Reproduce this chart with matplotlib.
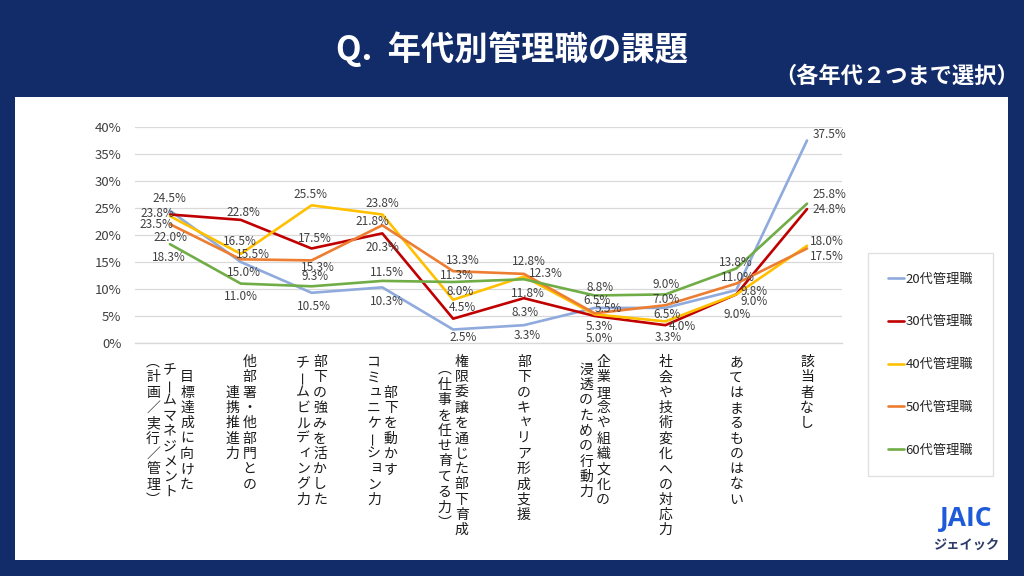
import numpy as np
import matplotlib
matplotlib.use("Agg")
import matplotlib.pyplot as plt
from matplotlib.patches import Rectangle
from matplotlib.ticker import PercentFormatter
from matplotlib.transforms import offset_copy

plt.rcParams["font.family"] = ["Noto Sans CJK JP", "DejaVu Sans"]

# category labels: columns separated by "\n", read right to left (vertical writing)
categories = [
    "目標達成に向けた\nチームマネジメント\n（計画／実行／管理）",
    "他部署・他部門との\n連携推進力",
    "部下の強みを活かした\nチームビルディング力",
    "部下を動かす\nコミュニケーション力",
    "権限委譲を通じた部下育成\n（仕事を任せ育てる力）",
    "部下のキャリア形成支援",
    "企業理念や組織文化の\n浸透のための行動力",
    "社会や技術変化への対応力",
    "あてはまるものはない",
    "該当者なし",
]
series_names = ["20代管理職", "30代管理職", "40代管理職", "50代管理職", "60代管理職"]

v20 = [24.5, 15.0, 9.3, 10.3, 2.5, 3.3, 6.5, 6.5, 9.8, 37.5]
v30 = [23.8, 22.8, 17.5, 20.3, 4.5, 8.3, 5.0, 3.3, 9.0, 24.8]
v40 = [23.5, 16.5, 25.5, 23.8, 8.0, 12.3, 5.3, 4.0, 9.0, 18.0]
v50 = [22.0, 15.5, 15.3, 21.8, 13.3, 12.8, 5.5, 7.0, 11.0, 17.5]
v60 = [18.3, 11.0, 10.5, 11.5, 11.3, 11.8, 8.8, 9.0, 13.8, 25.8]
all_values = [v20, v30, v40, v50, v60]

colors = ["#8FAADC", "#C00000", "#FFC000", "#ED7D31", "#70AD47"]

# data label nudges in pixels (dx, dy up), like the Excel layout
label_offsets = [
    [(-1, 12), (3, -11), (4, 16), (5, -14), (10, -8), (3, -10), (2, 7), (2, -7), (18, -1), (23, 6)],
    [(-13, 1), (3, 7), (3, 10), (0, -14), (9, 11), (1, -14), (5, -22), (3, -12), (1, -20), (22, 0)],
    [(-14, -8), (-1, 12), (-1, 11), (0, 11), (7, 8), (22, 3), (5, -12), (17, -5), (18, -7), (20, 4)],
    [(0, -13), (12, 5), (6, -7), (-10, 4), (10, 11), (5, 12), (14, 5), (1, 6), (2, 6), (20, -8)],
    [(-1, -13), (0, -13), (2, -20), (5, 8), (4, 6), (4, -14), (5, 8), (1, 10), (0, 6), (22, 9)],
]

W, H = 1024, 576
fig = plt.figure(figsize=(W / 100, H / 100), dpi=100, facecolor="#122C69")

# white panel
fig.add_artist(Rectangle((15 / W, 16 / H), 993 / W, 463 / H, transform=fig.transFigure,
                         facecolor="white", edgecolor="none", zorder=-1))

ax = fig.add_axes([134.6 / W, 1 - 343 / H, 707.8 / W, 216 / H])
ax.set_facecolor("none")

x = np.arange(len(categories))
for vals, name, c in zip(all_values, series_names, colors):
    ax.plot(x, np.array(vals) / 100, color=c, lw=1.9, label=name,
            solid_joinstyle="round", solid_capstyle="round", zorder=3)

ax.set_xlim(-0.5, len(categories) - 0.5)
ax.set_ylim(0, 0.4)
ax.set_yticks(np.arange(0, 0.401, 0.05))
ax.yaxis.set_major_formatter(PercentFormatter(1, decimals=0))
ax.yaxis.grid(True, color="#D9D9D9", lw=0.9)
ax.set_axisbelow(True)
for s in ["top", "right", "left"]:
    ax.spines[s].set_visible(False)
ax.spines["bottom"].set_color("#D9D9D9")
ax.spines["bottom"].set_linewidth(1.0)
ax.tick_params(left=False, bottom=False, labelbottom=False,
               labelsize=9.5, labelcolor="#404040", pad=6)

# data labels
for vals, offs in zip(all_values, label_offsets):
    for i, v in enumerate(vals):
        dx, dy = offs[i]
        ax.annotate(f"{v:.1f}%", (i, v / 100), xytext=(dx, dy), textcoords="offset pixels",
                    ha="center", va="center", fontsize=8.5, color="#404040", zorder=4)

# vertical category labels, one glyph at a time
pitch = 15.3
col_gap = 17
small_kana = "ャュョィッェァ"
vertical_forms = {"（": "︵", "）": "︶"}
base = ax.get_xaxis_transform()
for i, lab in enumerate(categories):
    cols = lab.split("\n")
    maxlen = max(len(c) for c in cols)
    n = len(cols)
    for j, col in enumerate(cols):
        xoff = ((n - 1) / 2 - j) * col_gap
        ytop = -19 - (maxlen - len(col)) * pitch / 2
        for k, ch in enumerate(col):
            rot = 0
            dx, dy = 0, 0
            if ch == "ー":
                rot = 90
            elif ch in small_kana:
                dx, dy = 2, 2
            ch = vertical_forms.get(ch, ch)
            tr = offset_copy(base, fig=fig, x=xoff + dx, y=ytop - k * pitch + dy, units="dots")
            ax.text(i, 0, ch, transform=tr, ha="center", va="center", rotation=rot,
                    fontsize=10, color="#1A1A1A", clip_on=False)

# legend
leg = ax.legend(loc="upper left", bbox_to_anchor=(868 / W, 1 - 253 / H),
                bbox_transform=fig.transFigure, frameon=True, fancybox=False,
                edgecolor="#D9D9D9", fontsize=9.5, handlelength=1.2, handletextpad=0.15,
                labelspacing=2.25, borderpad=1.5, borderaxespad=0)
leg.get_frame().set_linewidth(1.0)
for t in leg.get_texts():
    t.set_color("#262626")

# titles
fig.text(511.5 / W, 1 - 49 / H, "Q.  年代別管理職の課題", ha="center", va="center",
         fontsize=24, fontweight="bold", color="white")
fig.text(1019 / W, 1 - 76 / H, "（各年代２つまで選択）", ha="right", va="center",
         fontsize=16, fontweight="bold", color="white")

# logo
fig.text(966 / W, 1 - 519 / H, "JAIC", ha="center", va="center",
         fontsize=19, fontweight="bold", color="#1F5BD8", family="Open Sans")
fig.text(966 / W, 1 - 545 / H, "ジェイック", ha="center", va="center",
         fontsize=9.5, fontweight="bold", color="#2D3B6B")

fig.savefig("out.png", dpi=100, facecolor=fig.get_facecolor())
